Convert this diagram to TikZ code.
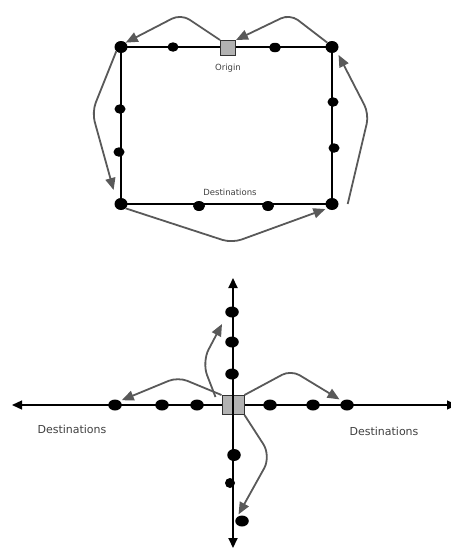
\documentclass[tikz,border=0pt]{standalone}
\usepackage{fontspec}
\setmainfont{DejaVu Sans}
\usetikzlibrary{positioning, arrows.meta, calc, shapes.geometric}

\begin{document}
\begin{tikzpicture}[
    x=1pt, y=-1pt,
    stop/.style={
        ellipse,
        fill=black,
        inner sep=0pt,
        minimum width=11pt,
        minimum height=9.5pt
    },
    corner/.style={stop, minimum width=13pt, minimum height=12pt},
    bigstop/.style={stop, minimum width=13.5pt, minimum height=11pt},
    depotbox/.style={
        rectangle,
        draw=black!80,
        fill=black!30,
        line width=1pt,
        inner sep=0pt,
        minimum width=15pt,
        minimum height=15pt
    },
    tag/.style={font=\fontsize{8.5}{10}\selectfont, text=black!75, inner sep=1pt},
    bigtag/.style={tag, font=\fontsize{11}{12}\selectfont},
    route/.style={-{Triangle[length=12pt, width=10pt]}, draw=black!65, line width=1.8pt, rounded corners=10pt},
    street/.style={draw=black, line width=1.7pt},
    axis/.style={{Triangle[length=10pt, width=9pt]}-{Triangle[length=10pt, width=9pt]}, draw=black}
]
\useasboundingbox (0,0) rectangle (450,554);

% loop around the block
\coordinate (nw) at (121,47);
\coordinate (ne) at (332,47);
\coordinate (se) at (332,204);
\coordinate (sw) at (121,204);

\draw[street] (nw) -- (ne) -- (se) -- (sw) -- cycle;
\draw[street, line width=2.5pt] (nw) -- (sw);

\node[depotbox] (depot) at (228,48) {};
\node[tag, below=7pt of depot] (originlabel) {Origin};

\node[corner] (c1) at (nw) {};
\node[corner] (c2) at (ne) {};
\node[corner] (c3) at (se) {};
\node[corner] (c4) at (sw) {};

\node[stop] (t1) at (173,47) {};
\node[stop, minimum width=12pt] (t2) at (275,47.5) {};
\node[stop] (l1) at (120,109) {};
\node[stop] (l2) at (119,152) {};
\node[stop] (r1) at (333,102) {};
\node[stop] (r2) at (334,148) {};
\node[stop, minimum width=12pt, minimum height=10pt] (b1) at (199,206) {};
\node[stop, minimum width=12pt, minimum height=10pt] (b2) at (268,206) {};

\node[tag] (destlabel) at (230,192) {Destinations};

\draw[route] (depot.north west) -- (181,14) -- (c1.north east);
\draw[route] (c2.north west) -- (290,14) -- (depot.north east);
\draw[route, shorten >=10pt] (c1.south west) -- (92,112) -- (c4.north west);
\draw[route, shorten >=2pt] (c4.south east) -- (232,243) -- (c3.south west);
\draw[route, shorten >=4pt] ([xshift=9pt]c3.east) -- (369,114) -- (c2.south east);

% star from the hub
\coordinate (west) at (12,405);
\coordinate (east) at (457,405);
\coordinate (north) at (233,278);
\coordinate (south) at (233,548);
\coordinate (nreach) at (222,324);

\draw[axis, line width=1.3pt] (west) -- (east);
\node[depotbox, minimum width=22pt, minimum height=19pt] (hub) at (233,405) {};
\draw[axis, line width=2pt] (south) -- (north);

\node[bigstop] (w1) at (115,405) {};
\node[bigstop] (w2) at (162,405) {};
\node[bigstop] (w3) at (197,405) {};
\node[bigstop] (e1) at (270,405) {};
\node[bigstop] (e2) at (313,405) {};
\node[bigstop] (e3) at (347,405) {};
\node[bigstop] (n1) at (232,312) {};
\node[bigstop] (n2) at (232,342) {};
\node[bigstop] (n3) at (232,374) {};
\node[bigstop, minimum height=12pt] (s1) at (234,455) {};
\node[stop, minimum width=10pt, minimum height=10pt] (s2) at (230,483) {};
\node[bigstop] (s3) at (242,521) {};

\node[bigtag] (westlabel) at (72,429) {Destinations};
\node[bigtag] (eastlabel) at (384,431) {Destinations};

\draw[route, shorten >=2pt] (hub.north west) -- (178,377) -- (w1.north east);
\draw[route, rounded corners=14pt] ($(hub.north west)+(-6,2)$) -- (202,362) -- (nreach);
\draw[route, shorten >=3pt] (hub.north east) -- (291,370) -- (e3.north west);
\draw[route, rounded corners=14pt, shorten >=3pt] (hub.south east) -- (271,456) -- (s3.north west);

\end{tikzpicture}
\end{document}
